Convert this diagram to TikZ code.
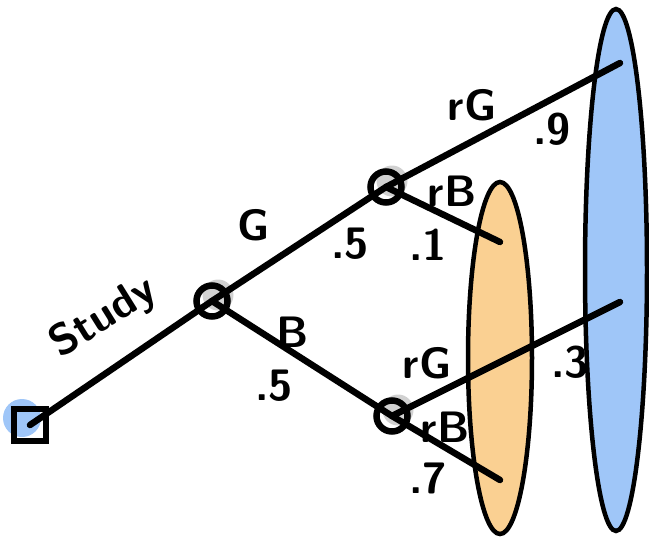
\documentclass[tikz,border=0pt]{standalone}
\usetikzlibrary{shapes.geometric,shadows}

\definecolor{setblue}{HTML}{9FC6F8}
\definecolor{setorange}{HTML}{FAD092}

\tikzset{
  branch/.style={line width=6.5pt, line cap=round},
  decision/.style={rectangle, draw, line width=6.5pt, minimum size=32pt, inner sep=0pt},
  chance/.style={circle, draw, line width=6.5pt, minimum size=31pt, inner sep=0pt,
    drop shadow={shadow xshift=6pt, shadow yshift=6pt, fill=black!18, opacity=1}},
  outcomes/.style={ellipse, draw, line width=4.5pt, inner sep=0pt},
  lbl/.style={font=\sffamily\bfseries\fontsize{44}{44}\selectfont, inner sep=0pt}
}

\begin{document}
\begin{tikzpicture}[x=1pt, y=-1pt]
  \useasboundingbox (0,0) rectangle (649,542);

  % outcome sets
  \node[outcomes, fill=setblue, minimum width=62pt, minimum height=522pt] (setG) at (616,270) {};
  \node[outcomes, fill=setorange, minimum width=64pt, minimum height=352pt] (setB) at (500,358) {};

  % tree
  \fill[setblue] (22,418) circle (19pt);
  \node[decision] (root) at (30,425) {};
  \node[chance] (c0) at (212,301) {};
  \node[chance] (cG) at (386,187) {};
  \node[chance] (cB) at (392,416) {};

  \coordinate (GrG) at (620,63);
  \coordinate (GrB) at (500,242);
  \coordinate (BrG) at (620,302);
  \coordinate (BrB) at (500,480);

  \draw[branch] (root.center) -- (c0.center);
  \draw[branch] (c0.center) -- (cG.center);
  \draw[branch] (c0.center) -- (cB.center);
  \draw[branch] (cG.center) -- (GrG);
  \draw[branch] (cG.center) -- (GrB);
  \draw[branch] (cB.center) -- (BrG);
  \draw[branch] (cB.center) -- (BrB);

  % labels
  \node[lbl, rotate=32] (study) at (104,318) {Study};
  \foreach \name/\pos/\txt in {%
    g/{254,225}/G, pg/{350,244}/.5,%
    b/{293,332}/B, pb/{274,386}/.5,%
    grg/{472,105}/rG, pgrg/{552,129}/.9,%
    grb/{452,191}/rB, pgrb/{428,245}/.1,%
    brg/{427,363}/rG, pbrg/{570,362}/.3,%
    brb/{445,427}/rB, pbrb/{428,478}/.7%
  }{
    \node[lbl] (\name) at (\pos) {\txt};
  }
\end{tikzpicture}
\end{document}
